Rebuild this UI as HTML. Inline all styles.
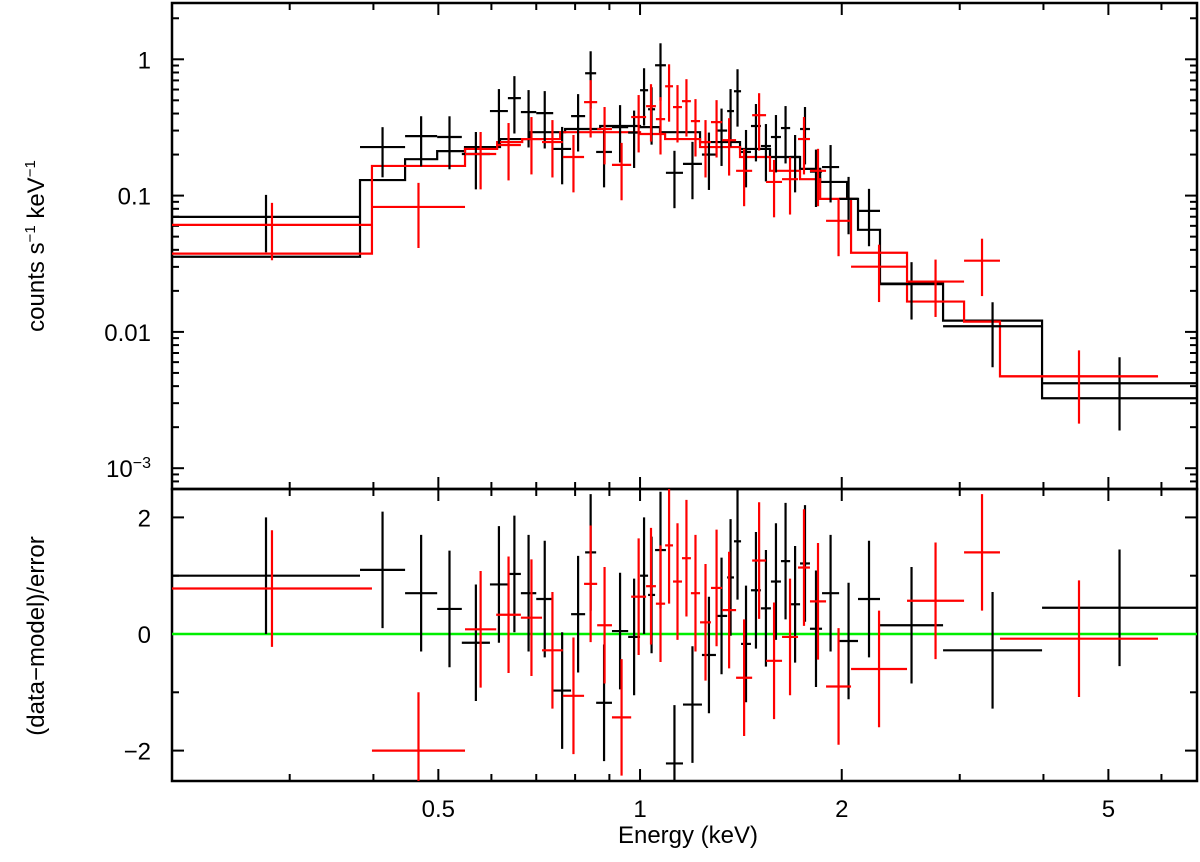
<!DOCTYPE html>
<html><head><meta charset="utf-8"><style>
html,body{margin:0;padding:0;background:#fff;}
svg{display:block;font-family:"Liberation Sans",Arial,sans-serif;}
</style></head><body>
<svg id="chart" width="1200" height="862" viewBox="0 0 1200 862" xmlns="http://www.w3.org/2000/svg">
<g id="axes"></g>
<g id="marks"></g>
<text x="0" y="0" transform="translate(44,246) rotate(-90)" text-anchor="middle" font-size="24">counts s<tspan dy="-9" font-size="15">−1</tspan><tspan dy="9"> keV</tspan><tspan dy="-9" font-size="15">−1</tspan></text>
<text transform="translate(44,636) rotate(-90)" text-anchor="middle" font-size="24">(data−model)/error</text>
<text x="688" y="843" text-anchor="middle" font-size="24">Energy (keV)</text>
</svg>
<script>
const blackEdges=[0.2002,0.382,0.446,0.498,0.542,0.597,0.635,0.664,0.700,0.742,0.789,0.828,0.860,0.908,0.960,1.000,1.028,1.053,1.093,1.159,1.237,1.298,1.349,1.381,1.415,1.464,1.515,1.568,1.623,1.675,1.733,1.793,1.869,1.982,2.115,2.281,2.833,3.981,6.78];
const blackRate=[0.0698,0.227,0.273,0.269,0.202,0.417,0.519,0.410,0.403,0.220,0.383,0.790,0.209,0.318,0.29,0.593,0.43,0.904,0.147,0.171,0.2,0.3,0.417,0.583,0.209,0.324,0.231,0.269,0.313,0.192,0.308,0.15,0.162,0.0946,0.0773,0.0224,0.011,0.0042];
const blackRelErr=[0.45,0.4,0.4,0.42,0.45,0.45,0.45,0.45,0.45,0.45,0.45,0.45,0.45,0.45,0.45,0.45,0.45,0.45,0.45,0.45,0.45,0.45,0.45,0.45,0.45,0.45,0.45,0.45,0.45,0.45,0.45,0.45,0.45,0.45,0.45,0.45,0.5,0.55];
const blackResid=[1.0,1.1,0.7,0.43,-0.15,0.85,1.03,0.7,0.6,-0.97,0.34,1.4,-1.18,0.05,-0.05,1.0,0.67,1.44,-2.22,-1.21,-0.36,0.31,0.97,1.59,-0.17,0.75,0.44,0.9,1.25,0.51,1.21,0.09,0.7,-0.12,0.6,0.15,-0.28,0.45];
const redEdges=[0.2002,0.398,0.548,0.610,0.664,0.714,0.767,0.825,0.863,0.908,0.970,1.021,1.056,1.090,1.120,1.155,1.191,1.229,1.276,1.326,1.391,1.470,1.542,1.629,1.721,1.793,1.895,2.065,2.503,3.045,3.445,5.93];
const redRate=[0.061,0.0826,0.202,0.235,0.260,0.247,0.192,0.485,0.308,0.168,0.377,0.453,0.364,0.634,0.446,0.493,0.352,0.247,0.346,0.255,0.152,0.389,0.126,0.132,0.260,0.152,0.0653,0.0301,0.0234,0.0333,0.00472];
const redRelErr=[0.45,0.5,0.45,0.45,0.45,0.45,0.45,0.45,0.45,0.45,0.45,0.45,0.45,0.45,0.45,0.45,0.45,0.45,0.45,0.45,0.45,0.45,0.45,0.45,0.45,0.45,0.45,0.45,0.45,0.45,0.55];
const redResid=[0.78,-2.0,0.08,0.33,0.28,-0.28,-1.06,0.86,0.15,-1.43,0.64,0.82,0.52,1.52,0.9,1.3,0.7,0.2,0.79,0.41,-0.75,1.26,-0.46,-0.05,1.14,0.56,-0.9,-0.6,0.57,1.4,-0.08];
const blackModelEdges=[0.2002,0.382,0.446,0.498,0.548,0.618,0.685,0.773,0.872,1.0,1.071,1.229,1.41,1.563,1.733,1.857,2.037,2.115,2.281,2.833,3.981,6.78];
const blackModel=[0.0356,0.130,0.185,0.212,0.227,0.260,0.292,0.308,0.324,0.318,0.292,0.247,0.220,0.192,0.157,0.126,0.0946,0.0561,0.0226,0.0121,0.00326];
const redModelEdges=[0.2002,0.398,0.548,0.612,0.667,0.760,0.872,1.0,1.09,1.229,1.41,1.563,1.733,1.857,2.065,2.503,3.045,3.445,5.93];
const redModel=[0.0375,0.165,0.220,0.247,0.260,0.292,0.292,0.283,0.260,0.227,0.192,0.152,0.132,0.0946,0.0381,0.0167,0.0119,0.00472];
const xTickMajor=[0.5,1,2,5];
const xTickLabels=["0.5","1","2","5"];
const xTickMinor=[0.3,0.4,0.6,0.7,0.8,0.9,3,4,6];
const residTicks=[-2,0,2];
const residTickLabels=["−2","0","2"];

const NS="http://www.w3.org/2000/svg";
const L=172,R=1197,T1=3,B1=489,T2=489,B2=781;
const xMin=0.2002,xMax=6.78;
function X(e){return L+(R-L)*(Math.log10(e)-Math.log10(xMin))/(Math.log10(xMax)-Math.log10(xMin));}
function Y1(v){return 59.3-136.3*Math.log10(Math.max(v,1e-6));}
function Y2(r){return 634-58.3*r;}
const axes=document.getElementById('axes');
const marks=document.getElementById('marks');
function mk(tag,attrs,parent){const e=document.createElementNS(NS,tag);for(const k in attrs)e.setAttribute(k,attrs[k]);parent.appendChild(e);return e;}
function ln(x1,y1,x2,y2,col,w,parent){return mk('line',{x1:x1,y1:y1,x2:x2,y2:y2,stroke:col,'stroke-width':w},parent);}

// frames
let f=mk('rect',{x:L,y:T1,width:R-L,height:B1-T1,fill:'none',stroke:'#000','stroke-width':2.5},axes);


f=mk('rect',{x:L,y:T2,width:R-L,height:B2-T2,fill:'none',stroke:'#000','stroke-width':2.5},axes);



// x ticks on all four horizontal edges
[[T1,1],[B1,-1],[T2,1],[B2,-1]].forEach(([y,d])=>{
  xTickMajor.forEach(v=>{const t=ln(X(v),y,X(v),y+d*12,'#000',2,axes);
    
    });
  xTickMinor.forEach(v=>{const t=ln(X(v),y,X(v),y+d*7,'#000',2,axes);
    
    });
});
xTickMajor.forEach((v,i)=>{const t=mk('text',{x:X(v),y:817,'text-anchor':'middle','font-size':24},axes);t.textContent=xTickLabels[i];
  
  });

// top y log ticks
for(let dec=-4;dec<=0;dec++){
  for(let m=1;m<10;m++){
    const v=m*Math.pow(10,dec);const y=Y1(v);
    if(y<T1+1||y>B1-1)continue;
    const len=m===1?12:7;
    const a=ln(L,y,L+len,y,'#000',2,axes);
    
    
    const b=ln(R,y,R-len,y,'#000',2,axes);
    
    
  }
}
const topLabels=[[1,"1"],[0.1,"0.1"],[0.01,"0.01"]];
topLabels.forEach(([v,s])=>{const t=mk('text',{x:151,y:Y1(v)+9,'text-anchor':'end','font-size':24},axes);t.textContent=s;
  
  });
{const t=mk('text',{x:151,y:Y1(0.001)+9,'text-anchor':'end','font-size':24},axes);
 t.innerHTML='10<tspan dy="-9" font-size="16">−3</tspan>';
 
 }

// residual ticks
for(let r=-2;r<=2;r++){const y=Y2(r);const len=(r%2===0)?12:7;
  const a=ln(L,y,L+len,y,'#000',2,axes);
  
  
  const b=ln(R,y,R-len,y,'#000',2,axes);
  
  }
residTicks.forEach((r,i)=>{const t=mk('text',{x:151,y:Y2(r)+9,'text-anchor':'end','font-size':24},axes);t.textContent=residTickLabels[i];
  
  });

// clip paths
const defs=mk('defs',{},marks);
const c1=mk('clipPath',{id:'c1'},defs);mk('rect',{x:L,y:T1,width:R-L,height:B1-T1},c1);
const c2=mk('clipPath',{id:'c2'},defs);mk('rect',{x:L,y:T2,width:R-L,height:B2-T2},c2);
const gTop=mk('g',{'clip-path':'url(#c1)'},marks);


const gBot=mk('g',{'clip-path':'url(#c2)'},marks);



function stepPath(edges,vals){let d='';for(let i=0;i<vals.length;i++){const y=Y1(vals[i]);d+=(i===0?'M':'L')+X(edges[i])+','+y+'L'+X(edges[i+1])+','+y;}return d;}
let p=mk('path',{d:stepPath(blackModelEdges,blackModel),fill:'none',stroke:'#000','stroke-width':2.2},gTop);


p=mk('path',{d:stepPath(redModelEdges,redModel),fill:'none',stroke:'#ff0000','stroke-width':2.2},gTop);



// zero line
const z=ln(L,Y2(0),R,Y2(0),'#00ee00',2.5,gBot);



function drawSeries(edges,rate,rel,resid,col,name){
  for(let i=0;i<rate.length;i++){
    const x0=X(edges[i]),x1=X(edges[i+1]);
    const xc=X(Math.sqrt(edges[i]*edges[i+1]));
    const g=mk('g',{stroke:col,'stroke-width':2.2},gTop);
    
    
    const v=rate[i],s=v*rel[i];
    const y=Y1(v);
    mk('line',{x1:x0,y1:y,x2:x1,y2:y},g);
    mk('line',{x1:xc,y1:Y1(v+s),x2:xc,y2:Y1(v-s)},g);
    const g2=mk('g',{stroke:col,'stroke-width':2.2},gBot);
    
    
    const r=resid[i];
    mk('line',{x1:x0,y1:Y2(r),x2:x1,y2:Y2(r)},g2);
    mk('line',{x1:xc,y1:Y2(r+1),x2:xc,y2:Y2(r-1)},g2);
  }
}
drawSeries(blackEdges,blackRate,blackRelErr,blackResid,'#000','black');
drawSeries(redEdges,redRate,redRelErr,redResid,'#ff0000','red');
</script>
</body></html>
